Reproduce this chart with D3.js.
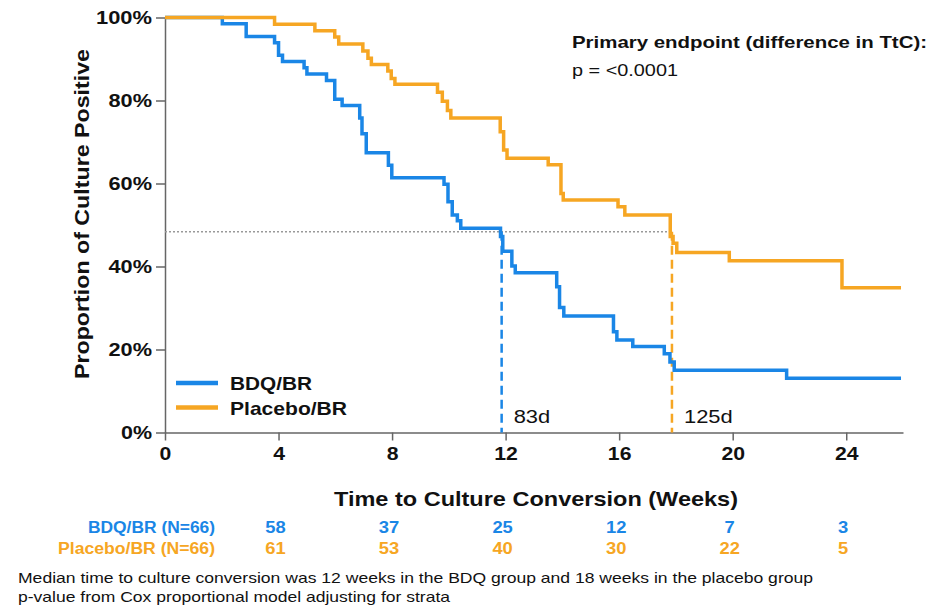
<!DOCTYPE html>
<html>
<head>
<meta charset="utf-8">
<script src="https://cdn.jsdelivr.net/npm/d3@7"></script>
<style>
  body { margin: 0; background: #fff; }
  svg text { font-family: "Liberation Sans", Arial, sans-serif; }
</style>
</head>
<body>
<svg id="chart" width="938" height="605"></svg>
<script>
// step points: [week, % still culture positive] after each drop
const bdq = [
  [0, 100], [2.02, 98.5], [2.86, 95.4], [3.86, 93.9], [4.0, 90.9], [4.14, 89.4],
  [4.9, 87.9], [5.0, 86.4], [5.69, 84.8], [5.98, 80.3], [6.24, 78.8],
  [6.86, 75.8], [6.94, 72.0], [7.09, 67.4], [7.87, 64.4], [7.99, 61.4],
  [9.83, 59.8], [9.97, 55.6], [10.12, 52.4], [10.3, 51.0], [10.42, 49.2],
  [11.82, 47.2], [11.9, 43.7], [12.22, 40.1], [12.34, 38.5], [13.8, 35.1],
  [13.9, 30.1], [14.05, 28.1], [15.8, 24.3], [15.92, 22.3], [16.48, 20.7],
  [17.59, 19.0], [17.79, 17.0], [17.94, 15.0], [21.9, 13.1], [25.93, 13.1]
];
const placebo = [
  [0, 100], [3.86, 98.4], [5.28, 96.8], [5.98, 95.3], [6.12, 93.6],
  [6.97, 91.9], [7.15, 90.2], [7.27, 88.7], [7.85, 87.1], [7.97, 85.3],
  [8.1, 83.9], [9.6, 82.0], [9.77, 79.8], [9.95, 77.6], [10.07, 75.8],
  [11.81, 72.5], [11.93, 68.1], [12.05, 66.1], [13.5, 64.5], [13.95, 57.6],
  [14.03, 56.0], [15.96, 54.4], [16.2, 52.4], [17.8, 47.2], [17.9, 45.6],
  [18.03, 43.4], [19.88, 41.4], [23.85, 34.9], [25.93, 34.9]
];

const groups = ['BDQ/BR', 'Placebo/BR'];
const groupLabels = ['BDQ/BR (N=66)', 'Placebo/BR (N=66)'];
const colors = ['#1a86e6', '#f6a623'];

const xTicks = [0, 4, 8, 12, 16, 20, 24];
const yTicks = [0, 20, 40, 60, 80, 100];

const medianPct = 48.4;
const medianWeeks = [11.86, 17.86];
const medianLabels = ['83d', '125d'];

const riskWeeks = [4, 8, 12, 16, 20, 24];
const riskBdq = [58, 37, 25, 12, 7, 3];
const riskPlacebo = [61, 53, 40, 30, 22, 5];

const svg = d3.select('#chart');

const x = d3.scaleLinear().domain([0, 26]).range([165, 903]);
const y = d3.scaleLinear().domain([0, 100]).range([432.5, 17.5]);

// axes
const xAxis = svg.append('g')
  .attr('transform', `translate(0,${y(0)})`)
  .call(d3.axisBottom(x).tickValues(xTicks).tickSize(8).tickSizeOuter(0).tickPadding(6));
const yAxis = svg.append('g')
  .attr('transform', `translate(${x(0)},0)`)
  .call(d3.axisLeft(y).tickValues(yTicks).tickSize(9).tickSizeOuter(0)
    .tickPadding(4).tickFormat(d => d + '%'));

[xAxis, yAxis].forEach(a => {
  a.select('.domain').attr('stroke', '#666').attr('stroke-width', 1.5);
  a.selectAll('.tick line').attr('stroke', '#666').attr('stroke-width', 1.5);
  a.selectAll('.tick text')
    .attr('fill', '#111').attr('font-weight', 'bold')
    .style('font-family', '"Liberation Sans", Arial, sans-serif')
    .attr('font-size', 19);
});
// the source text is a bit wider than Arial, so stretch the glyphs
xAxis.selectAll('.tick text')
  .attr('textLength', d => String(d).length * 11.8).attr('lengthAdjust', 'spacingAndGlyphs');
yAxis.selectAll('.tick text')
  .attr('textLength', d => (String(d).length + 1) * 12.5 + 6).attr('lengthAdjust', 'spacingAndGlyphs');

// median reference lines
svg.append('line')
  .attr('x1', x(0)).attr('x2', x(medianWeeks[1]))
  .attr('y1', y(medianPct)).attr('y2', y(medianPct))
  .attr('stroke', '#999').attr('stroke-width', 1.5).attr('stroke-dasharray', '2,2');

medianWeeks.forEach((w, i) => {
  svg.append('line')
    .attr('x1', x(w)).attr('x2', x(w))
    .attr('y1', y(medianPct)).attr('y2', y(0))
    .attr('stroke', colors[i]).attr('stroke-width', 2.5).attr('stroke-dasharray', '9,5');
  svg.append('text')
    .attr('x', x(w) + 12).attr('y', 423)
    .attr('font-size', 18).attr('fill', '#111')
    .attr('textLength', medianLabels[i].length * 12.2).attr('lengthAdjust', 'spacingAndGlyphs')
    .text(medianLabels[i]);
});

// KM step curves
const line = d3.line().x(d => x(d[0])).y(d => y(d[1])).curve(d3.curveStepAfter);
[bdq, placebo].forEach((data, i) => {
  svg.append('path')
    .datum(data)
    .attr('fill', 'none')
    .attr('stroke', colors[i])
    .attr('stroke-width', 3.5)
    .attr('d', line);
});

// legend
const legendW = [82, 117];
groups.forEach((g, i) => {
  const ly = 383 + i * 24.5;
  svg.append('line')
    .attr('x1', 176).attr('x2', 218).attr('y1', ly).attr('y2', ly)
    .attr('stroke', colors[i]).attr('stroke-width', 4.5);
  svg.append('text')
    .attr('x', 230).attr('y', ly + 7)
    .attr('font-size', 19).attr('font-weight', 'bold').attr('fill', '#111')
    .attr('textLength', legendW[i]).attr('lengthAdjust', 'spacingAndGlyphs')
    .text(g);
});

// annotation
svg.append('text')
  .attr('x', 572).attr('y', 48)
  .attr('font-size', 17).attr('font-weight', 'bold').attr('fill', '#111')
  .attr('textLength', 355).attr('lengthAdjust', 'spacingAndGlyphs')
  .text('Primary endpoint (difference in TtC):');
svg.append('text')
  .attr('x', 572).attr('y', 76)
  .attr('font-size', 17).attr('fill', '#111')
  .attr('textLength', 106).attr('lengthAdjust', 'spacingAndGlyphs')
  .text('p = <0.0001');

// axis titles
svg.append('text')
  .attr('x', 536).attr('y', 506)
  .attr('text-anchor', 'middle')
  .attr('font-size', 21).attr('font-weight', 'bold').attr('fill', '#111')
  .attr('textLength', 404).attr('lengthAdjust', 'spacingAndGlyphs')
  .text('Time to Culture Conversion (Weeks)');
svg.append('text')
  .attr('transform', 'translate(89,214) rotate(-90)')
  .attr('text-anchor', 'middle')
  .attr('font-size', 21).attr('font-weight', 'bold').attr('fill', '#111')
  .attr('textLength', 330).attr('lengthAdjust', 'spacingAndGlyphs')
  .text('Proportion  of Culture Positive');

// numbers at risk
const riskW = [127, 157];
[riskBdq, riskPlacebo].forEach((row, i) => {
  const ry = 533 + i * 20.5;
  svg.append('text')
    .attr('x', 215).attr('y', ry)
    .attr('text-anchor', 'end')
    .attr('font-size', 16).attr('font-weight', 'bold').attr('fill', colors[i])
    .attr('textLength', riskW[i]).attr('lengthAdjust', 'spacingAndGlyphs')
    .text(groupLabels[i]);
  svg.selectAll(null)
    .data(row)
    .enter().append('text')
    .attr('x', (d, j) => x(riskWeeks[j]) - 3)
    .attr('y', ry)
    .attr('text-anchor', 'middle')
    .attr('font-size', 16).attr('font-weight', 'bold').attr('fill', colors[i])
    .attr('textLength', d => String(d).length * 10.2).attr('lengthAdjust', 'spacingAndGlyphs')
    .text(d => d);
});

// footnotes
svg.append('text')
  .attr('x', 18).attr('y', 583)
  .attr('font-size', 14.5).attr('fill', '#111')
  .attr('textLength', 795).attr('lengthAdjust', 'spacingAndGlyphs')
  .text('Median time to culture  conversion was 12 weeks in the BDQ group and 18 weeks in the placebo group');
svg.append('text')
  .attr('x', 18).attr('y', 602)
  .attr('font-size', 14.5).attr('fill', '#111')
  .attr('textLength', 432).attr('lengthAdjust', 'spacingAndGlyphs')
  .text('p-value  from Cox proportional model adjusting for strata');
</script>
</body>
</html>
